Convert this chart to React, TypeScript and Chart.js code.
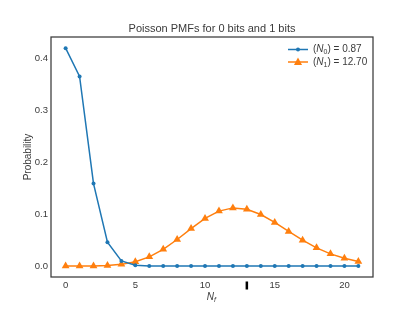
import React, { useEffect, useRef } from "react";
import { Chart, registerables } from "chart.js";

Chart.register(...registerables);

const xValues = [0, 1, 2, 3, 4, 5, 6, 7, 8, 9, 10, 11, 12, 13, 14, 15, 16, 17, 18, 19, 20, 21];
const pmf0 = [0.419, 0.3645, 0.1586, 0.046, 0.01, 0.0017, 0.00025, 0.00003, 0, 0, 0, 0, 0, 0, 0, 0, 0, 0, 0, 0, 0, 0];
const pmf1 = [0.000003, 0.00004, 0.00025, 0.00104, 0.0033, 0.0084, 0.0177, 0.0322, 0.0511, 0.0721, 0.0916, 0.1057, 0.1119, 0.1093, 0.0992, 0.084, 0.0667, 0.0498, 0.0351, 0.0235, 0.0149, 0.009];
const xTicks = [0, 5, 10, 15, 20];
const yTicks = [0.0, 0.1, 0.2, 0.3, 0.4];
const markerX = [13];
const mean0 = "0.87";
const mean1 = "12.70";
const titleText = "Poisson PMFs for 0 bits and 1 bits";

const BLUE = "#1f77b4";
const ORANGE = "#ff7f0e";
const FONT = "'Liberation Sans', Arial, sans-serif";
const TEXT = "#3a3a3a";

function drawTriangle(ctx: CanvasRenderingContext2D, x: number, y: number, r: number) {
  ctx.beginPath();
  ctx.moveTo(x, y - r);
  ctx.lineTo(x + r * 0.9, y + r * 0.65);
  ctx.lineTo(x - r * 0.9, y + r * 0.65);
  ctx.closePath();
  ctx.fill();
}

function drawLegendLabel(ctx: CanvasRenderingContext2D, x: number, y: number, sub: string, val: string) {
  ctx.fillStyle = TEXT;
  ctx.textBaseline = "middle";
  ctx.textAlign = "left";
  ctx.font = `10px ${FONT}`;
  let cx = x;
  ctx.fillText("(", cx, y);
  cx += ctx.measureText("(").width;
  ctx.font = `italic 10px ${FONT}`;
  ctx.fillText("N", cx, y);
  cx += ctx.measureText("N").width;
  ctx.font = `7px ${FONT}`;
  ctx.fillText(sub, cx, y + 3);
  cx += ctx.measureText(sub).width;
  ctx.font = `10px ${FONT}`;
  ctx.fillText(") = " + val, cx, y);
}

const decorPlugin = {
  id: "decor",
  afterDraw(chart: any) {
    const ctx: CanvasRenderingContext2D = chart.ctx;
    const a = chart.chartArea;
    const xs = chart.scales.x;
    ctx.save();
    // frame
    ctx.strokeStyle = "#3a3a3a";
    ctx.lineWidth = 1.25;
    ctx.strokeRect(a.left, a.top, a.right - a.left, a.bottom - a.top);
    // title
    ctx.fillStyle = TEXT;
    ctx.font = `11px ${FONT}`;
    ctx.textAlign = "center";
    ctx.textBaseline = "middle";
    ctx.fillText(titleText, (a.left + a.right) / 2, 29);
    // y title
    ctx.save();
    ctx.translate(28, (a.top + a.bottom) / 2);
    ctx.rotate(-Math.PI / 2);
    ctx.font = `10px ${FONT}`;
    ctx.fillText("Probability", 0, 0);
    ctx.restore();
    // x title
    const cx = (a.left + a.right) / 2;
    ctx.font = `italic 10px ${FONT}`;
    ctx.textAlign = "right";
    ctx.fillText("N", cx + 2, 297);
    ctx.font = `italic 7px ${FONT}`;
    ctx.textAlign = "left";
    ctx.fillText("f", cx + 2, 300);
    // marker tick below axis
    ctx.fillStyle = "#000";
    markerX.forEach((v) => {
      const px = xs.getPixelForValue(v);
      ctx.fillRect(px - 1.25, a.bottom + 4.5, 2.5, 8);
    });
    // legend
    const lx0 = 288, lx1 = 308, tx = 313;
    const r1 = 49.5, r2 = 62;
    ctx.lineWidth = 1.5;
    ctx.strokeStyle = BLUE;
    ctx.beginPath();
    ctx.moveTo(lx0, r1);
    ctx.lineTo(lx1, r1);
    ctx.stroke();
    ctx.fillStyle = BLUE;
    ctx.beginPath();
    ctx.arc((lx0 + lx1) / 2, r1, 2, 0, Math.PI * 2);
    ctx.fill();
    ctx.strokeStyle = ORANGE;
    ctx.beginPath();
    ctx.moveTo(lx0, r2);
    ctx.lineTo(lx1, r2);
    ctx.stroke();
    ctx.fillStyle = ORANGE;
    drawTriangle(ctx, (lx0 + lx1) / 2, r2, 4.5);
    drawLegendLabel(ctx, tx, r1, "0", mean0);
    drawLegendLabel(ctx, tx, r2, "1", mean1);
    ctx.restore();
  },
};

export default function App() {
  const ref = useRef<HTMLCanvasElement | null>(null);
  useEffect(() => {
    if (!ref.current) return;
    const chart = new Chart(ref.current, {
      type: "line",
      data: {
        datasets: [
          {
            label: "N0",
            data: xValues.map((x, i) => ({ x, y: pmf0[i] })),
            borderColor: BLUE,
            backgroundColor: BLUE,
            borderWidth: 1.5,
            pointRadius: 2,
            pointBorderWidth: 0,
            pointStyle: "circle",
            tension: 0,
          },
          {
            label: "N1",
            data: xValues.map((x, i) => ({ x, y: pmf1[i] })),
            borderColor: ORANGE,
            backgroundColor: ORANGE,
            borderWidth: 1.5,
            pointRadius: 4.5,
            pointBorderWidth: 0,
            pointStyle: "triangle",
            tension: 0,
          },
        ],
      },
      options: {
        animation: false,
        responsive: false,
        events: [],
        layout: { padding: { top: 37, right: 42, left: 0, bottom: 0 } },
        plugins: {
          legend: { display: false },
          title: { display: false },
          tooltip: { enabled: false },
        },
        scales: {
          x: {
            type: "linear",
            min: -1.05,
            max: 22.05,
            grid: { display: false, drawTicks: false },
            border: { display: false },
            afterBuildTicks: (s: any) => {
              s.ticks = xTicks.map((v) => ({ value: v }));
            },
            afterFit: (s: any) => {
              s.height = 36;
            },
            ticks: {
              padding: 3,
              maxRotation: 0,
              autoSkip: false,
              color: TEXT,
              font: { family: FONT, size: 9.5 },
              callback: (v: any) => String(v),
            },
          },
          y: {
            type: "linear",
            min: -0.021,
            max: 0.4405,
            grid: { display: false, drawTicks: false },
            border: { display: false },
            afterBuildTicks: (s: any) => {
              s.ticks = yTicks.map((v) => ({ value: v }));
            },
            afterFit: (s: any) => {
              s.width = 51;
            },
            ticks: {
              padding: 3,
              autoSkip: false,
              color: TEXT,
              font: { family: FONT, size: 9.5 },
              callback: (v: any) => Number(v).toFixed(1),
            },
          },
        },
      },
      plugins: [decorPlugin],
    } as any);
    return () => chart.destroy();
  }, []);
  return (
    <div style={{ position: "fixed", left: 0, top: 0, width: 415, height: 313, background: "#fff" }}>
      <canvas ref={ref} width={415} height={313} style={{ width: 415, height: 313 }} />
    </div>
  );
}
